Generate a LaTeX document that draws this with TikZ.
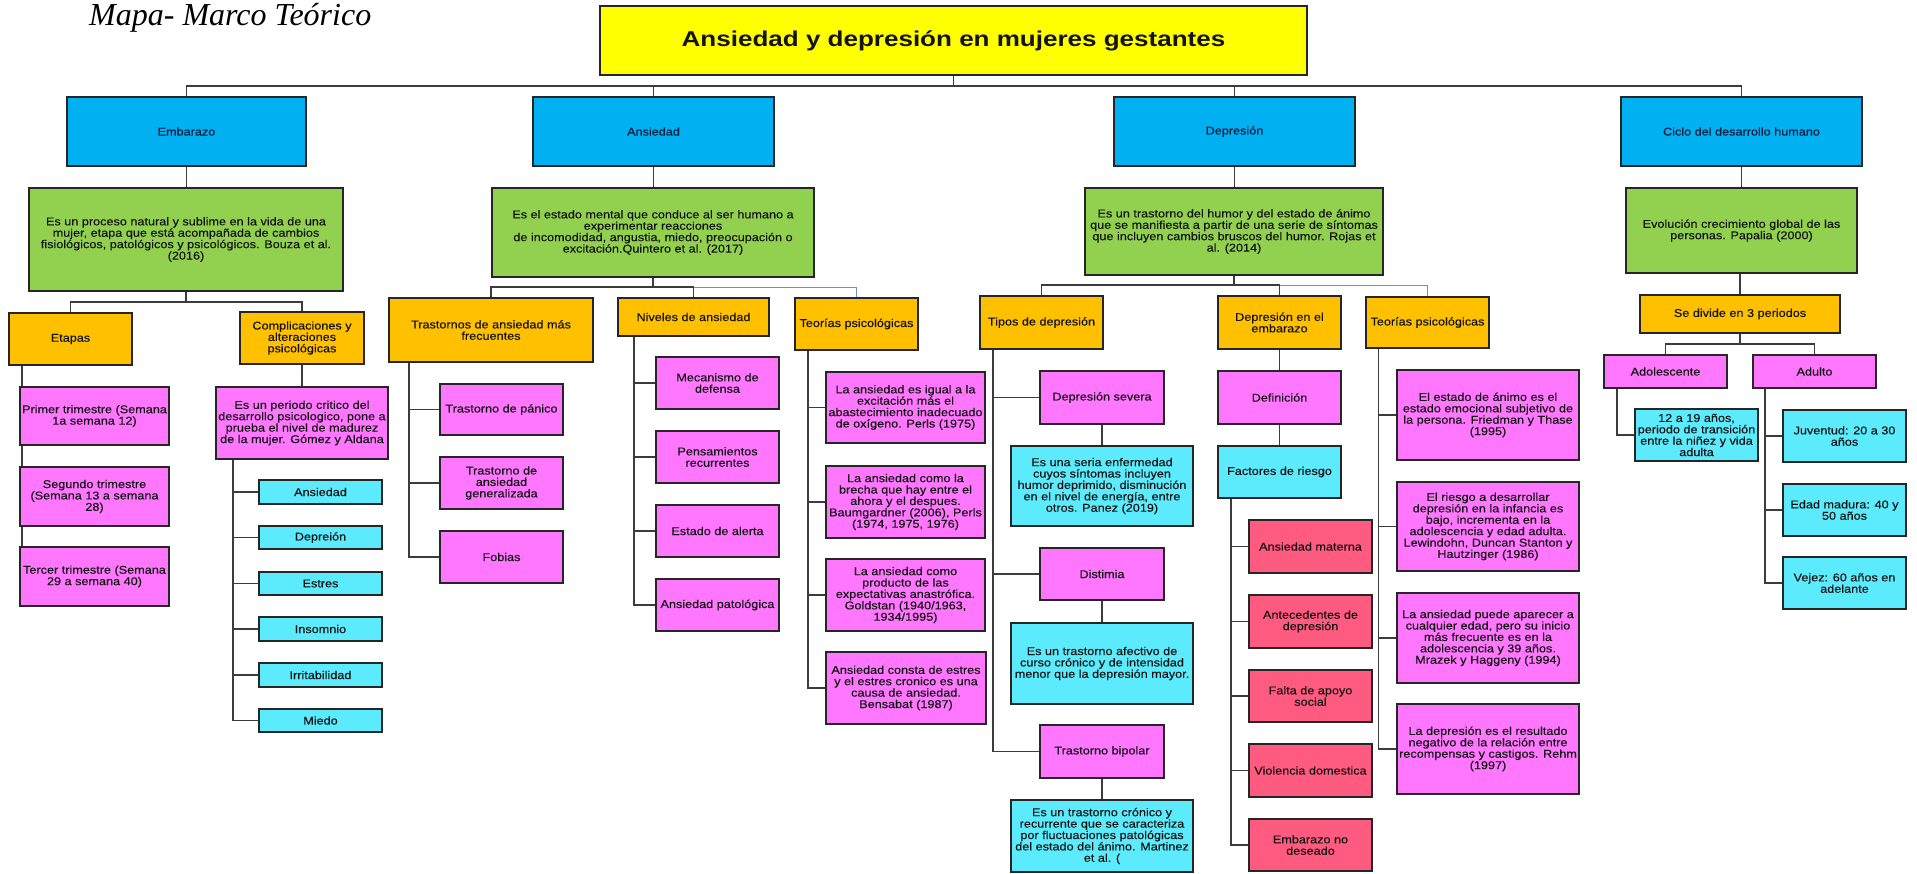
\documentclass[tikz,border=0pt]{standalone}
\usepackage{fontspec}
\setmainfont{Liberation Sans}
\newfontfamily\bxfont[FakeStretch=1.12,FakeBold=0.25]{Liberation Sans}
\newfontfamily\hdfont[FakeStretch=1.21]{Liberation Sans}
\newfontfamily\ttlfont{Liberation Serif}
\usetikzlibrary{backgrounds}
\definecolor{cyel}{HTML}{FFFF00}
\definecolor{cblu}{HTML}{00B0F0}
\definecolor{cgrn}{HTML}{92D050}
\definecolor{corg}{HTML}{FFC000}
\definecolor{cmag}{HTML}{FF77FF}
\definecolor{ccya}{HTML}{5CEBFC}
\definecolor{cred}{HTML}{FF5B80}
\definecolor{bord}{HTML}{262626}
\definecolor{lin}{HTML}{3C3C3C}
\definecolor{blin}{HTML}{6F8FC8}
\definecolor{txt}{HTML}{141414}
\definecolor{navy}{HTML}{0A1F44}
\newcommand\bx[7]{%
  \pgfmathsetmacro\bw{#4-#2}\pgfmathsetmacro\bh{#5-#3}%
  \pgfmathsetmacro\bcx{(#2+#4)/2}\pgfmathsetmacro\bcy{(#3+#5)/2}%
  \node[#6,minimum width=\bw pt,minimum height=\bh pt] (#1) at (\bcx,\bcy) {#7};}
\begin{document}
\begin{tikzpicture}[x=1pt,y=-1pt,
  box/.style={draw=bord,line width=1.4pt,inner sep=0pt,align=center,text=txt,
    font=\bxfont\fontsize{11.3}{11.4}\selectfont},
  yelbox/.style={box,fill=cyel,font=\hdfont\bfseries\fontsize{21.5}{24}\selectfont},
  blubox/.style={box,fill=cblu,text=navy},
  grnbox/.style={box,fill=cgrn},
  orgbox/.style={box,fill=corg},
  magbox/.style={box,fill=cmag},
  cyabox/.style={box,fill=ccya},
  redbox/.style={box,fill=cred},
  conn/.style={draw=lin,line width=1.4pt},
  bconn/.style={draw=blin,line width=1pt}]
\useasboundingbox (0,0) rectangle (1917,873);
\node[anchor=base west,inner sep=0pt,font=\ttlfont\itshape\fontsize{32}{36}\selectfont] (ttl) at (89,25) {Mapa- Marco Teórico};
% level 0/1/2
\bx{main}{600}{6}{1307}{75}{yelbox}{Ansiedad y depresión en mujeres gestantes}
\bx{emb}{67}{97}{306}{166}{blubox}{Embarazo}
\bx{ans}{533}{97}{774}{166}{blubox}{Ansiedad}
\bx{dep}{1114}{97}{1355}{166}{blubox}{Depresión}
\bx{cic}{1621}{97}{1862}{166}{blubox}{Ciclo del desarrollo humano}
\bx{embg}{29}{188}{343}{291}{grnbox}{Es un proceso natural y sublime en la vida de una\\mujer, etapa que está acompañada de cambios\\fisiológicos, patológicos y psicológicos. Bouza et al.\\(2016)}
\bx{ansg}{492}{188}{814}{277}{grnbox}{Es el estado mental que conduce al ser humano a\\experimentar reacciones\\de incomodidad, angustia, miedo, preocupación o\\excitación.Quintero et al. (2017)}
\bx{depg}{1085}{188}{1383}{275}{grnbox}{Es un trastorno del humor y del estado de ánimo\\que se manifiesta a partir de una serie de síntomas\\que incluyen cambios bruscos del humor. Rojas et\\al. (2014)}
\bx{cicg}{1626}{188}{1857}{273}{grnbox}{Evolución crecimiento global de las\\personas. Papalia (2000)}
% Embarazo subtree
\bx{eta}{9}{313}{132}{365}{orgbox}{Etapas}
\bx{com}{240}{312}{364}{364}{orgbox}{Complicaciones y\\alteraciones\\psicológicas}
\bx{pri}{20}{387}{169}{445}{magbox}{Primer trimestre (Semana\\1a semana 12)}
\bx{seg}{20}{467}{169}{526}{magbox}{Segundo trimestre\\(Semana 13 a semana\\28)}
\bx{ter}{20}{547}{169}{606}{magbox}{Tercer trimestre (Semana\\29 a semana 40)}
\bx{per}{216}{387}{388}{459}{magbox}{Es un periodo critico del\\desarrollo psicologico, pone a\\prueba el nivel de madurez\\de la mujer. Gómez y Aldana}
\bx{c1}{259}{480}{382}{504}{cyabox}{Ansiedad}
\bx{c2}{259}{526}{382}{549}{cyabox}{Depreión}
\bx{c3}{259}{572}{382}{595}{cyabox}{Estres}
\bx{c4}{259}{617}{382}{641}{cyabox}{Insomnio}
\bx{c5}{259}{663}{382}{687}{cyabox}{Irritabilidad}
\bx{c6}{259}{709}{382}{732}{cyabox}{Miedo}
% Ansiedad subtree
\bx{tra}{389}{298}{593}{362}{orgbox}{Trastornos de ansiedad más\\frecuentes}
\bx{niv}{618}{298}{769}{336}{orgbox}{Niveles de ansiedad}
\bx{teoa}{795}{298}{918}{350}{orgbox}{Teorías psicológicas}
\bx{pan}{440}{384}{563}{435}{magbox}{Trastorno de pánico}
\bx{gen}{440}{457}{563}{509}{magbox}{Trastorno de\\ansiedad\\generalizada}
\bx{fob}{440}{531}{563}{583}{magbox}{Fobias}
\bx{mec}{656}{357}{779}{409}{magbox}{Mecanismo de\\defensa}
\bx{pen}{656}{431}{779}{483}{magbox}{Pensamientos\\recurrentes}
\bx{ale}{656}{505}{779}{557}{magbox}{Estado de alerta}
\bx{pat}{656}{579}{779}{631}{magbox}{Ansiedad patológica}
\bx{ta1}{826}{372}{985}{443}{magbox}{La ansiedad es igual a la\\excitación más el\\abastecimiento inadecuado\\de oxígeno. Perls (1975)}
\bx{ta2}{826}{466}{985}{538}{magbox}{La ansiedad como la\\brecha que hay entre el\\ahora y el despues.\\Baumgardner (2006), Perls\\(1974, 1975, 1976)}
\bx{ta3}{826}{559}{985}{631}{magbox}{La ansiedad como\\producto de las\\expectativas anastrófica.\\Goldstan (1940/1963,\\1934/1995)}
\bx{ta4}{826}{652}{986}{724}{magbox}{Ansiedad consta de estres\\y el estres cronico es una\\causa de ansiedad.\\Bensabat (1987)}
% Depresion subtree
\bx{tip}{980}{296}{1103}{349}{orgbox}{Tipos de depresión}
\bx{dee}{1218}{296}{1341}{349}{orgbox}{Depresión en el\\embarazo}
\bx{teod}{1366}{297}{1489}{348}{orgbox}{Teorías psicológicas}
\bx{sev}{1040}{371}{1164}{424}{magbox}{Depresión severa}
\bx{ser}{1011}{446}{1193}{526}{cyabox}{Es una seria enfermedad\\cuyos síntomas incluyen\\humor deprimido, disminución\\en el nivel de energía, entre\\otros. Panez (2019)}
\bx{dis}{1040}{548}{1164}{600}{magbox}{Distimia}
\bx{afe}{1011}{623}{1193}{704}{cyabox}{Es un trastorno afectivo de\\curso crónico y de intensidad\\menor que la depresión mayor.}
\bx{bip}{1040}{725}{1164}{778}{magbox}{Trastorno bipolar}
\bx{cro}{1011}{800}{1193}{872}{cyabox}{Es un trastorno crónico y\\recurrente que se caracteriza\\por fluctuaciones patológicas\\del estado del ánimo. Martinez\\et al. (}
\bx{defn}{1218}{371}{1341}{424}{magbox}{Definición}
\bx{fac}{1218}{446}{1341}{498}{cyabox}{Factores de riesgo}
\bx{r1}{1249}{520}{1372}{573}{redbox}{Ansiedad materna}
\bx{r2}{1249}{595}{1372}{648}{redbox}{Antecedentes de\\depresión}
\bx{r3}{1249}{670}{1372}{722}{redbox}{Falta de apoyo\\social}
\bx{r4}{1249}{744}{1372}{797}{redbox}{Violencia domestica}
\bx{r5}{1249}{819}{1372}{871}{redbox}{Embarazo no\\deseado}
\bx{td1}{1397}{370}{1579}{460}{magbox}{El estado de ánimo es el\\estado emocional subjetivo de\\la persona. Friedman y Thase\\(1995)}
\bx{td2}{1397}{482}{1579}{571}{magbox}{El riesgo a desarrollar\\depresión en la infancia es\\bajo, incrementa en la\\adolescencia y edad adulta.\\Lewindohn, Duncan Stanton y\\Hautzinger (1986)}
\bx{td3}{1397}{593}{1579}{683}{magbox}{La ansiedad puede aparecer a\\cualquier edad, pero su inicio\\más frecuente es en la\\adolescencia y 39 años.\\Mrazek y Haggeny (1994)}
\bx{td4}{1397}{704}{1579}{794}{magbox}{La depresión es el resultado\\negativo de la relación entre\\recompensas y castigos. Rehm\\(1997)}
% Ciclo subtree
\bx{sed}{1640}{295}{1840}{333}{orgbox}{Se divide en 3 periodos}
\bx{ado}{1604}{355}{1727}{388}{magbox}{Adolescente}
\bx{adu}{1753}{355}{1876}{388}{magbox}{Adulto}
\bx{a19}{1635}{409}{1758}{461}{cyabox}{12 a 19 años,\\periodo de transición\\entre la niñez y vida\\adulta}
\bx{juv}{1783}{410}{1906}{462}{cyabox}{Juventud: 20 a 30\\años}
\bx{mad}{1783}{484}{1906}{536}{cyabox}{Edad madura: 40 y\\50 años}
\bx{vej}{1783}{557}{1906}{609}{cyabox}{Vejez: 60 años en\\adelante}
% connectors
\begin{scope}[on background layer]
\coordinate (topbar) at (0,86);
\draw[conn] (main.south) -- (main.south |- topbar);
\draw[conn] (emb.north) -- (emb.north |- topbar) -- (cic.north |- topbar) -- (cic.north);
\draw[conn] (ans.north) -- (ans.north |- topbar);
\draw[conn] (dep.north) -- (dep.north |- topbar);
\draw[conn] (emb.south) -- (emb.south |- embg.north);
\draw[conn] (ans.south) -- (ans.south |- ansg.north);
\draw[conn] (dep.south) -- (dep.south |- depg.north);
\draw[conn] (cic.south) -- (cic.south |- cicg.north);
% embarazo
\coordinate (ebar) at (0,302);
\draw[conn] (embg.south) -- (embg.south |- ebar);
\draw[conn] (eta.north) -- (eta.north |- ebar) -- (com.north |- ebar) -- (com.north);
\coordinate (etx) at (22,0);
\draw[conn] (etx |- eta.south) -- (etx |- ter.north);
\draw[conn] (com.south) -- (com.south |- per.north);
\coordinate (pex) at (233,0);
\draw[conn] (pex |- per.south) |- (c6.west);
\foreach \n in {c1,c2,c3,c4,c5} \draw[conn] (pex |- \n.west) -- (\n.west);
% ansiedad
\coordinate (abar) at (0,287);
\draw[conn] (ansg.south) -- (ansg.south |- abar);
\draw[conn] (tra.north) -- (tra.north |- abar) -- (niv.north |- abar) -- (niv.north);
\draw[bconn] (niv.north |- abar) -- (teoa.north |- abar) -- (teoa.north);
\coordinate (trx) at (409,0);
\draw[conn] (trx |- tra.south) |- (fob.west);
\foreach \n in {pan,gen} \draw[conn] (trx |- \n.west) -- (\n.west);
\coordinate (nvx) at (634,0);
\draw[conn] (nvx |- niv.south) |- (pat.west);
\foreach \n in {mec,pen,ale} \draw[conn] (nvx |- \n.west) -- (\n.west);
\coordinate (tax) at (808,0);
\draw[conn] (tax |- teoa.south) |- (ta4.west);
\foreach \n in {ta1,ta2,ta3} \draw[conn] (tax |- \n.west) -- (\n.west);
% depresion
\coordinate (dbar) at (0,285);
\draw[conn] (depg.south) -- (depg.south |- dbar);
\draw[conn] (tip.north) -- (tip.north |- dbar) -- (dee.north |- dbar) -- (dee.north);
\draw[bconn] (dee.north |- dbar) -- (teod.north |- dbar) -- (teod.north);
\coordinate (tpx) at (993,0);
\draw[conn] (tpx |- tip.south) |- (bip.west);
\foreach \n in {sev,dis} \draw[conn] (tpx |- \n.west) -- (\n.west);
\draw[conn] (sev.south) -- (ser.north);
\draw[conn] (dis.south) -- (afe.north);
\draw[conn] (bip.south) -- (cro.north);
\draw[conn] (dee.south) -- (defn.north);
\draw[conn] (defn.south) -- (fac.north);
\coordinate (fcx) at (1231,0);
\draw[conn] (fcx |- fac.south) |- (r5.west);
\foreach \n in {r1,r2,r3,r4} \draw[conn] (fcx |- \n.west) -- (\n.west);
\coordinate (tdx) at (1378.5,0);
\draw[conn] (tdx |- teod.south) |- (td4.west);
\foreach \n in {td1,td2,td3} \draw[conn] (tdx |- \n.west) -- (\n.west);
% ciclo
\draw[conn] (sed.north |- cicg.south) -- (sed.north);
\coordinate (cbar) at (0,344);
\draw[conn] (sed.south) -- (sed.south |- cbar);
\draw[conn] (ado.north) -- (ado.north |- cbar) -- (adu.north |- cbar) -- (adu.north);
\coordinate (aox) at (1617,0);
\draw[conn] (aox |- ado.south) |- (a19.west);
\coordinate (aux) at (1765,0);
\draw[conn] (aux |- adu.south) |- (vej.west);
\foreach \n in {juv,mad} \draw[conn] (aux |- \n.west) -- (\n.west);
\end{scope}
\end{tikzpicture}
\end{document}
